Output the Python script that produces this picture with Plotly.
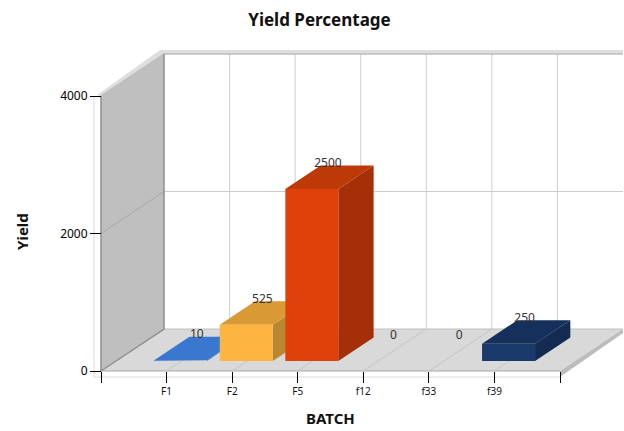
import plotly.graph_objects as go

CATEGORIES = ["F1", "F2", "F5", "f12", "f33", "f39"]
VALUES = [10, 525, 2500, 0, 0, 250]
Y_TICKS = [0, 2000, 4000]

FRONT = ["#3a78d0", "#fdb441", "#e0410a", "#8a8a8a", "#8a8a8a", "#1a3a6b"]
TOP = ["#3a78d0", "#d99a35", "#bd3a06", "#8a8a8a", "#8a8a8a", "#15305a"]
SIDE = ["#3a78d0", "#b88730", "#a52f07", "#8a8a8a", "#8a8a8a", "#132a52"]

FONT = "Noto Sans"
W, H = 624, 431
L, R, T, B = 101, 560, 96, 371   # front frame in pixels
PL, PR, PT, PB = 90, 624, 46, 380  # plotting area in pixels
X_MAX = 7
Y_MAX = 4000
UNIT_X = (R - L) / X_MAX
UNIT_Y = (B - T) / Y_MAX
DEPTH_X = 63 / UNIT_X
DEPTH_Y = 42 / UNIT_Y
BAR_W = 53 / UNIT_X
BAR_SHIFT = -1 / UNIT_X
D0, D1 = 0.24, 0.80
LABEL_DX, LABEL_DY = 0.48, 0.83
dpx = 1 / UNIT_X
dpy = 1 / UNIT_Y


def P(x, y, d=0.0):
    return x + d * DEPTH_X, y + d * DEPTH_Y


fig = go.Figure()


def poly(points, fill=None, line=None, width=1):
    xs = [p[0] for p in points]
    ys = [p[1] for p in points]
    fig.add_trace(go.Scatter(
        x=xs, y=ys, mode="lines",
        fill="toself" if fill else None,
        fillcolor=fill,
        line=dict(color=line or "rgba(0,0,0,0)", width=width if line else 0),
        hoverinfo="skip", showlegend=False,
    ))


# outer light frame around the front of the chart
poly([(-7 * dpx, Y_MAX), (-7 * dpx, -6 * dpy), (X_MAX, -6 * dpy)], line="#dcdcdc", width=1)
# left wall
poly([P(0, 0), P(0, 0, 1), P(0, Y_MAX, 1), P(0, Y_MAX), P(0, 0)], fill="#bfbfbf")
# top slab above the walls
poly([P(0, Y_MAX), P(0, Y_MAX, 1), P(X_MAX, Y_MAX, 1),
      (P(X_MAX, Y_MAX, 1)[0], P(0, Y_MAX, 1)[1] + 4 * dpy),
      (P(0, Y_MAX, 1)[0] - 4 * dpx, P(0, Y_MAX, 1)[1] + 4 * dpy),
      (-4 * dpx, Y_MAX + 1 * dpy)], fill="#dedede")
# floor
poly([P(0, 0), P(X_MAX, 0), P(X_MAX, 0, 1), P(0, 0, 1)], fill="#d9d9d9")
# floor side slab
poly([P(X_MAX, 0), P(X_MAX, 0, 1), P(X_MAX, -4 * dpy, 1), P(X_MAX, -6 * dpy)], fill="#bcbcbc")
poly([P(0, 0), P(X_MAX, 0)], line="#a8a8a8", width=1)

# grid on floor and back wall
for i in range(1, X_MAX):
    poly([P(i, 0), P(i, 0, 1)], line="#c4c4c4", width=1)
for i in range(1, X_MAX):
    poly([P(i, 0, 1), P(i, Y_MAX, 1)], line="#cfcfcf", width=1)
poly([P(0, 2000), P(0, 2000, 1)], line="#a6a6a6", width=1)
poly([P(0, 2000, 1), P(X_MAX, 2000, 1)], line="#cccccc", width=1)
poly([P(0, 0, 1), P(X_MAX, 0, 1)], line="#c0c0c0", width=1)
poly([P(0, Y_MAX), P(0, Y_MAX, 1), P(X_MAX, Y_MAX, 1)], line="#bdbdbd", width=1.5)
poly([P(0, 0), P(0, 0, 1), P(0, Y_MAX, 1)], line="#8f8f8f", width=1.5)
poly([P(0, 0), P(0, Y_MAX)], line="#8f8f8f", width=1.5)

# bars
for idx, v in enumerate(VALUES):
    if v <= 0:
        continue
    c = idx + 1 + BAR_SHIFT
    x0, x1 = c - BAR_W / 2, c + BAR_W / 2
    poly([P(x1, 0, D0), P(x1, 0, D1), P(x1, v, D1), P(x1, v, D0)], fill=SIDE[idx])
    poly([P(x0, v, D0), P(x1, v, D0), P(x1, v, D1), P(x0, v, D1)], fill=TOP[idx])
    poly([P(x0, 0, D0), P(x1, 0, D0), P(x1, v, D0), P(x0, v, D0)], fill=FRONT[idx])

# value labels
fig.add_trace(go.Scatter(
    x=[i + 1 + LABEL_DX * DEPTH_X for i in range(len(VALUES))],
    y=[v + LABEL_DY * DEPTH_Y for v in VALUES],
    mode="text", text=[str(v) for v in VALUES], textposition="middle center",
    textfont=dict(family=FONT, size=12, color="#333333"),
    hoverinfo="skip", showlegend=False,
))

fig.update_layout(
    width=W, height=H, autosize=False,
    margin=dict(l=PL, r=W - PR, t=PT, b=H - PB, pad=0),
    paper_bgcolor="white", plot_bgcolor="white",
    showlegend=False,
    font=dict(family=FONT, color="#000000"),
    title=dict(text="<b>Yield Percentage</b>", font=dict(family=FONT, size=17, color="#111111"),
               x=319.5 / W, xanchor="center", y=1 - 20 / H, yanchor="middle"),
    xaxis=dict(
        range=[(PL - L) * dpx, (PR - L) * dpx], tickmode="array",
        tickvals=list(range(0, X_MAX + 1)),
        ticktext=[""] + CATEGORIES + [""],
        ticks="outside", ticklen=11, tickcolor="#000000", tickwidth=1,
        tickfont=dict(family=FONT, size=10, color="#111111"),
        showgrid=False, zeroline=False, showline=False, automargin=False,
        anchor="free", position=(PB - B) / (PB - PT),
    ),
    yaxis=dict(
        range=[(B - PB) * dpy, (B - PT) * dpy], tickmode="array", tickvals=Y_TICKS,
        ticktext=[str(t) for t in Y_TICKS],
        ticks="outside", ticklen=11, tickcolor="#000000", tickwidth=1,
        tickfont=dict(family=FONT, size=12, color="#000000"),
        showgrid=False, zeroline=False, showline=False, automargin=False,
        anchor="free", position=(L - PL) / (PR - PL),
    ),
    annotations=[
        dict(text="<b>BATCH</b>", xref="paper", yref="paper",
             x=(330 - PL) / (PR - PL), y=(PB - 418) / (PB - PT), showarrow=False,
             xanchor="center", yanchor="middle",
             font=dict(family=FONT, size=15, color="#111111")),
        dict(text="<b>Yield</b>", xref="paper", yref="paper", textangle=-90,
             x=(22 - PL) / (PR - PL), y=(PB - 232) / (PB - PT), showarrow=False,
             xanchor="center", yanchor="middle",
             font=dict(family=FONT, size=15, color="#111111")),
    ],
)

fig.write_html("out.html", config={"displayModeBar": False},
               post_script="document.body.style.margin='0';")
